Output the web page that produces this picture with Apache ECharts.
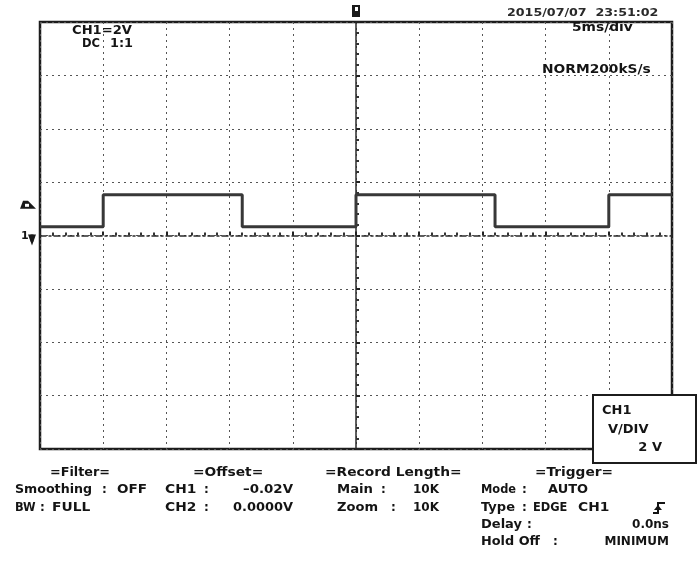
<!DOCTYPE html>
<html>
<head>
<meta charset="utf-8">
<script src="https://cdn.jsdelivr.net/npm/echarts@6/dist/echarts.min.js"></script>
<style>
html,body{margin:0;padding:0;background:#fff;}
#scope{width:699px;height:562px;}
</style>
</head>
<body>
<div id="scope"></div>
<script>
// Horizontal scale: 5 ms/div over 10 divisions, trigger point at the centre (t = 0 ms)
const timeRange = [-25, 25];
const timeStep = 5;
// Vertical scale: CH1 at 2 V/div over 8 divisions
const voltRange = [-8, 8];
const voltStep = 2;

// CH1 trace: each entry is the time (ms) where the level changes and the level (V) held from there
const edgeTimes = [-25, -20, -9, 0, 11, 20, 25];
const edgeVolts = [0.33, 1.53, 0.33, 1.53, 0.33, 1.53, 1.53];

// Channel markers on the left edge (V) and trigger position on the top edge (ms)
const triggerLevel = 1.15;
const groundLevel = 0;
const triggerTime = 0;

// Screen annotations
const headerDate = '2015/07/07  23:51:02';
const chLabel = ['CH1=2V', 'DC', '1:1'];
const timebaseLabel = '5ms/div';
const acquireLabel = 'NORM200kS/s';
const scaleBox = ['CH1', 'V/DIV', '2 V'];

const filterLines = ['=Filter=', 'Smoothing', ':', 'OFF', 'BW', ':', 'FULL'];
const offsetLines = ['=Offset=', 'CH1', ':', '\u20130.02V', 'CH2', ':', '0.0000V'];
const recordLines = ['=Record Length=', 'Main', ':', '10K', 'Zoom', ':', '10K'];
const triggerLines = ['=Trigger=', 'Mode', ':', 'AUTO', 'Type', ':', 'EDGE', 'CH1', 'Delay', ':', '0.0ns', 'Hold Off', ':', 'MINIMUM'];

const trace = edgeTimes.map((t, i) => [t, edgeVolts[i]]);

const chart = echarts.init(document.getElementById('scope'), null, {renderer: 'canvas'});

const BOLD = 'bold 12px "DejaVu Sans"';
const INK = '#141414';
const measureCtx = document.createElement('canvas').getContext('2d');

function txt(x, y, text, opt) {
  opt = opt || {};
  return {
    type: 'text', x: x, y: y, z: opt.z || 20,
    style: {
      text: text,
      font: opt.font || BOLD,
      fill: opt.fill || INK,
      textAlign: opt.align || 'left',
      textVerticalAlign: 'middle'
    }
  };
}

// text starting at x0, widened or narrowed a little towards x1
function span(x0, x1, y, text, opt) {
  opt = opt || {};
  const font = opt.font || BOLD;
  measureCtx.font = font;
  const w = measureCtx.measureText(text).width || 1;
  const el = txt(x0, y, text, opt);
  el.scaleX = Math.max(0.95, Math.min(1.15, (x1 - x0) / w));
  return el;
}

const option = {
  animation: false,
  backgroundColor: '#ffffff',
  grid: {
    left: 40, top: 22, width: 632, height: 427,
    show: true, borderColor: '#1c1c1c', borderWidth: 2.5, backgroundColor: 'transparent'
  },
  xAxis: {
    type: 'value', min: timeRange[0], max: timeRange[1], interval: timeStep,
    axisLine: {onZero: true, lineStyle: {color: '#2a2a2a', width: 1.5, type: [6, 3, 2, 3]}},
    axisTick: {show: true, inside: true, length: 4, lineStyle: {color: '#222', width: 2}},
    minorTick: {show: true, splitNumber: 5, length: 3, lineStyle: {color: '#333', width: 2}},
    axisLabel: {show: false},
    splitLine: {show: true, lineStyle: {color: '#555', width: 1, type: [2, 4]}}
  },
  yAxis: {
    type: 'value', min: voltRange[0], max: voltRange[1], interval: voltStep,
    axisLine: {onZero: true, lineStyle: {color: '#2a2a2a', width: 1.5}},
    axisTick: {show: true, inside: true, length: 4, lineStyle: {color: '#222', width: 2}},
    minorTick: {show: true, splitNumber: 5, length: 3, lineStyle: {color: '#333', width: 2}},
    axisLabel: {show: false},
    splitLine: {show: true, lineStyle: {color: '#555', width: 1, type: [2, 4]}}
  },
  series: [{
    type: 'line',
    step: 'end',
    symbol: 'none',
    data: trace,
    z: 5,
    lineStyle: {color: '#383838', width: 3}
  }]
};
chart.setOption(option);

// Markers tied to the scales
const trigPx = chart.convertToPixel({gridIndex: 0}, [triggerTime, triggerLevel]);
const gndPx = chart.convertToPixel({gridIndex: 0}, [triggerTime, groundLevel]);

const g = [];
// trigger position flag on the top edge
g.push({type: 'rect', z: 20, shape: {x: trigPx[0] - 4, y: 5, width: 8, height: 12}, style: {fill: '#1a1a1a'}});
g.push({type: 'rect', z: 21, shape: {x: trigPx[0] - 1, y: 7, width: 3, height: 4}, style: {fill: '#ffffff'}});
// trigger level marker on the left edge
g.push({type: 'polygon', z: 20, shape: {points: [[20, trigPx[1] + 4], [23, trigPx[1] - 4], [28, trigPx[1] - 4], [36, trigPx[1] + 4]]}, style: {fill: '#1a1a1a'}});
g.push({type: 'rect', z: 21, shape: {x: 25, y: trigPx[1] - 1, width: 4, height: 3}, style: {fill: '#ffffff'}});
// CH1 ground marker
g.push(txt(21, gndPx[1] + 1, '1', {font: 'bold 11px "DejaVu Sans"'}));
g.push({type: 'polygon', z: 20, shape: {points: [[28, gndPx[1] - 1], [36, gndPx[1] - 1], [32, gndPx[1] + 10]]}, style: {fill: '#1a1a1a'}});
g.push({type: 'rect', z: 20, shape: {x: 30.5, y: gndPx[1] - 1, width: 3, height: 7}, style: {fill: '#1a1a1a'}});

// header
g.push(span(507, 665, 13, headerDate, {font: 'bold 11px "DejaVu Sans"', fill: '#2a2a2a'}));
g.push(span(72, 132, 31, chLabel[0]));
g.push(span(82, 100, 44, chLabel[1]));
g.push(span(110, 133, 44, chLabel[2]));
g.push(span(572, 637, 28, timebaseLabel));
g.push(span(542, 657, 70, acquireLabel));

// V/DIV box
g.push({type: 'rect', z: 25, shape: {x: 593, y: 395, width: 103, height: 68}, style: {fill: '#ffffff', stroke: '#1c1c1c', lineWidth: 2}});
g.push(txt(602, 411, scaleBox[0], {font: 'bold 13px "DejaVu Sans"', z: 26}));
g.push(txt(608, 430, scaleBox[1], {font: 'bold 13px "DejaVu Sans"', z: 26}));
g.push(txt(662, 448, scaleBox[2], {font: 'bold 13px "DejaVu Sans"', z: 26, align: 'right'}));

// footer: filter
g.push(span(50, 110, 473, filterLines[0]));
g.push(span(15, 92, 490, filterLines[1]));
g.push(txt(102, 490, filterLines[2]));
g.push(span(117, 147, 490, filterLines[3]));
g.push(span(15, 33, 508, filterLines[4]));
g.push(txt(40, 508, filterLines[5]));
g.push(span(52, 100, 508, filterLines[6]));
// footer: offset
g.push(span(193, 268, 473, offsetLines[0]));
g.push(span(165, 200, 490, offsetLines[1]));
g.push(txt(204, 490, offsetLines[2]));
g.push(span(243, 293, 490, offsetLines[3]));
g.push(span(165, 200, 508, offsetLines[4]));
g.push(txt(204, 508, offsetLines[5]));
g.push(span(233, 293, 508, offsetLines[6]));
// footer: record length
g.push(span(325, 462, 473, recordLines[0]));
g.push(span(337, 373, 490, recordLines[1]));
g.push(txt(381, 490, recordLines[2]));
g.push(span(413, 439, 490, recordLines[3]));
g.push(span(337, 378, 508, recordLines[4]));
g.push(txt(391, 508, recordLines[5]));
g.push(span(413, 439, 508, recordLines[6]));
// footer: trigger
g.push(span(535, 613, 473, triggerLines[0]));
g.push(span(481, 515, 490, triggerLines[1]));
g.push(txt(522, 490, triggerLines[2]));
g.push(span(548, 588, 490, triggerLines[3]));
g.push(span(481, 515, 508, triggerLines[4]));
g.push(txt(522, 508, triggerLines[5]));
g.push(span(533, 567, 508, triggerLines[6]));
g.push(span(578, 610, 508, triggerLines[7]));
// rising-edge symbol
g.push({type: 'polyline', z: 20, shape: {points: [[653, 513], [658, 513], [658, 503], [665, 503]]}, style: {stroke: INK, lineWidth: 2, fill: null}});
g.push({type: 'polygon', z: 20, shape: {points: [[654, 510], [662, 510], [658, 505]]}, style: {fill: INK}});
g.push(span(481, 522, 525, triggerLines[8]));
g.push(txt(527, 525, triggerLines[9]));
g.push(txt(669, 525, triggerLines[10], {align: 'right'}));
g.push(span(481, 540, 542, triggerLines[11]));
g.push(txt(553, 542, triggerLines[12]));
g.push(txt(669, 542, triggerLines[13], {align: 'right'}));

chart.setOption({graphic: {elements: g}});
</script>
</body>
</html>
